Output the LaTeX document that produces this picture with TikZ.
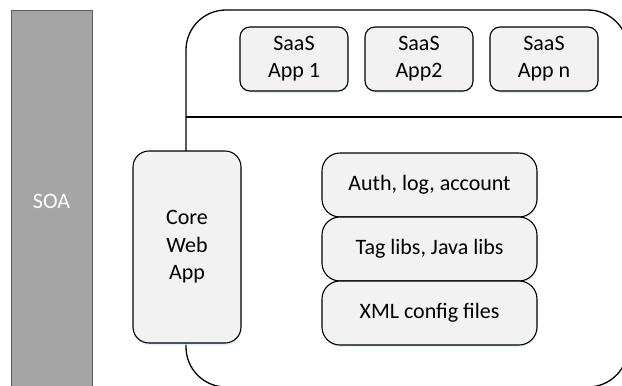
\documentclass[tikz,border=0pt]{standalone}
\usepackage{fontspec}
\setmainfont{Carlito}
\usetikzlibrary{shadows}
\definecolor{boxfill}{HTML}{F2F2F2}
\definecolor{soafill}{HTML}{A5A5A5}
\definecolor{soaline}{HTML}{595959}
\definecolor{shade}{HTML}{DDEBF7}
\tikzset{
  appbox/.style={draw=black, line width=1.1pt, fill=boxfill, rounded corners=10pt,
    align=center, font=\fontsize{22}{27}\selectfont, inner sep=0pt,
    drop shadow={shadow xshift=0.5pt, shadow yshift=-2pt, fill=shade, opacity=0.8}},
  libbox/.style={appbox, rounded corners=18pt},
  corebox/.style={appbox, rounded corners=16pt, font=\fontsize{22}{27.5}\selectfont},
  soabox/.style={draw=soaline, line width=1pt, fill=soafill, inner sep=0pt},
  soatext/.style={text=white, font=\fontsize{22}{25}\selectfont},
  outer/.style={draw=black, line width=1.3pt, rounded corners=40pt}
}
\begin{document}
\begin{tikzpicture}[x=1pt,y=-1pt]
\useasboundingbox (0,0) rectangle (622,386);
\clip (0,0) rectangle (622,386);
% SOA bar
\node[soabox, minimum width=81pt, minimum height=390pt, anchor=north west] (soa) at (11,10) {};
\node[soatext] (soat) at (51.5,201) {SOA};
% outer frame
\draw[outer] (186,10) rectangle (628,387);
\coordinate (hl) at (186,117);
\coordinate (hr) at (628,117);
\draw[line width=1.3pt] (hl) -- (hr);
% SaaS apps
\node[appbox, minimum width=108pt, minimum height=64pt] (s1) at (294,59) {SaaS\\App 1};
\node[appbox, minimum width=108pt, minimum height=64pt] (s2) at (419,59) {SaaS\\App2};
\node[appbox, minimum width=108pt, minimum height=64pt] (sn) at (544,59) {SaaS\\App n};
% core web app
\node[corebox, minimum width=108pt, minimum height=192pt] (core) at (187,247) {Core\\Web\\App};
% libs
\node[libbox, minimum width=215pt, minimum height=64pt] (auth) at (429.5,185) {Auth, log, account};
\node[libbox, minimum width=215pt, minimum height=64pt] (tag) at (429.5,249) {Tag libs, Java libs};
\node[libbox, minimum width=215pt, minimum height=64pt] (xml) at (429.5,313) {XML config files};
\end{tikzpicture}
\end{document}
